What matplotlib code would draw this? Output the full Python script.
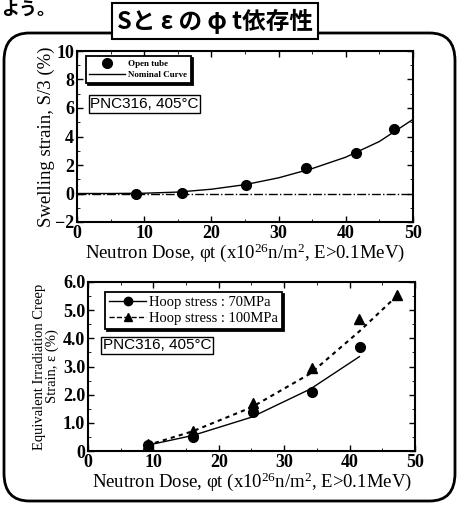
import numpy as np
import matplotlib.pyplot as plt
from matplotlib.patches import FancyBboxPatch
from matplotlib.ticker import MultipleLocator

plt.rcParams['font.family'] = ['Liberation Serif', 'DejaVu Serif']
plt.rcParams['mathtext.fontset'] = 'custom'
plt.rcParams['mathtext.rm'] = 'Liberation Serif'
plt.rcParams['mathtext.it'] = 'Liberation Serif:italic'

# --- 上: スエリング歪み ---
dose_s = [8.8, 15.6, 25.1, 34.1, 41.5, 47.2]
swell = [-0.05, 0.05, 0.62, 1.8, 2.85, 4.5]
curve_x = [0, 5, 10, 15, 20, 25, 30, 35, 40, 45, 50]
curve_y = [0, 0, 0.02, 0.1, 0.3, 0.62, 1.1, 1.75, 2.55, 3.65, 5.2]

# --- 下: 照射クリープ歪み ---
dose_c70 = [9.1, 16.0, 25.3, 34.3, 41.6]
creep70 = [0.2, 0.5, 1.4, 2.1, 3.68]
dose_c100 = [9.1, 16.0, 25.3, 34.3, 41.5, 47.2]
creep100 = [0.25, 0.7, 1.7, 2.96, 4.7, 5.55]
fit70_x = [9, 16, 25, 34, 41.5]
fit70_y = [0.2, 0.55, 1.2, 2.2, 3.35]
fit100_x = [9, 16, 25, 34, 41.5, 47.2]
fit100_y = [0.2, 0.7, 1.55, 2.75, 4.25, 5.5]

W, H = 460, 505
fig = plt.figure(figsize=(W / 100, H / 100), dpi=100)

def box(l, t, r, b):
    return [l / W, 1 - b / H, (r - l) / W, (b - t) / H]

# 外枠
frame = FancyBboxPatch((4 / W, 4 / H), 451 / W, 468 / H, transform=fig.transFigure,
                       boxstyle='round,pad=0,rounding_size=0.055', fc='none', ec='k', lw=2)
fig.patches.append(frame)
fig.text(1 / W, 1 - 0 / H, 'よう。', family=['Noto Sans CJK JP'], fontsize=13, weight='bold', va='top')
fig.text(215 / W, 1 - 21 / H, 'Sと ε の φ t依存性', family=['Noto Sans CJK JP', 'DejaVu Sans'],
         fontsize=17, weight='bold', ha='center', va='center',
         bbox=dict(boxstyle='square,pad=0.22', fc='white', ec='k', lw=1.5))

xlab = 'Neutron Dose, φt (x10$^{26}$n/m$^2$, E>0.1MeV)'

def style(ax):
    ax.tick_params(direction='in', which='both', top=True, right=True, labelsize=13, pad=2)
    ax.tick_params(which='major', length=4, width=1)
    ax.tick_params(which='minor', length=2)
    for lab in ax.get_xticklabels() + ax.get_yticklabels():
        lab.set_fontweight('bold')
    for s in ax.spines.values():
        s.set_linewidth(1.5)

ax1 = fig.add_axes(box(77, 51, 413, 222))
ax1.plot([0, 50], [0, 0], 'k-.', lw=1)
nom, = ax1.plot(curve_x, curve_y, 'k-', lw=1)
opn, = ax1.plot(dose_s, swell, 'ko', ms=7)
ax1.set_xlim(0, 50)
ax1.set_ylim(-2, 10)
ax1.xaxis.set_major_locator(MultipleLocator(10))
ax1.xaxis.set_minor_locator(MultipleLocator(5))
ax1.yaxis.set_major_locator(MultipleLocator(2))
ax1.yaxis.set_minor_locator(MultipleLocator(1))
ax1.set_xlabel(xlab, fontsize=13.5, labelpad=0)
ax1.set_ylabel('Swelling strain, S/3 (%)', fontsize=13.5, labelpad=0)
leg = ax1.legend([opn, nom], ['Open tube', 'Nominal Curve'], loc='upper left', bbox_to_anchor=(0.012, 0.995),
                 prop={'size': 6.5, 'weight': 'bold'}, frameon=True, fancybox=False, edgecolor='k',
                 handlelength=4, borderpad=0.4, labelspacing=0.3, handletextpad=0.3,
                 shadow={'color': 'k', 'alpha': 1, 'ox': 1.5, 'oy': -1.5})
leg.get_frame().set_linewidth(1.3)
ax1.text(0.04, 0.69, 'PNC316, 405°C', transform=ax1.transAxes, family='Liberation Sans',
         fontsize=11, va='center', bbox=dict(boxstyle='square,pad=0.1', fc='white', ec='k', lw=1))
style(ax1)

ax2 = fig.add_axes(box(88, 282, 415, 451))
ax2.plot(fit70_x, fit70_y, 'k-', lw=1)
ax2.plot(fit100_x, fit100_y, 'k--', lw=1.5, dashes=(2, 2))
ax2.plot(dose_c70, creep70, 'ko', ms=7)
ax2.plot(dose_c100, creep100, 'k^', ms=7)
l70, = ax2.plot([], [], 'k-', marker='o', ms=6, lw=1)
l100, = ax2.plot([], [], 'k--', marker='^', ms=6, lw=1)
ax2.set_xlim(0, 50)
ax2.set_ylim(0, 6)
ax2.xaxis.set_major_locator(MultipleLocator(10))
ax2.xaxis.set_minor_locator(MultipleLocator(5))
ax2.yaxis.set_major_locator(MultipleLocator(1))
ax2.yaxis.set_minor_locator(MultipleLocator(0.5))
ax2.set_yticks([0, 1, 2, 3, 4, 5, 6], ['0', '1.0', '2.0', '3.0', '4.0', '5.0', '6.0'])
ax2.set_xlabel(xlab, fontsize=13.5, labelpad=0)
ax2.set_ylabel('Equivalent Irradiation Creep\nStrain, ε (%)', fontsize=10.5, labelpad=3, linespacing=0.9)
leg2 = ax2.legend([l70, l100], ['Hoop stress : 70MPa', 'Hoop stress : 100MPa'],
                  loc='upper left', bbox_to_anchor=(0.03, 0.985), fontsize=10.5,
                  frameon=True, fancybox=False, edgecolor='k', handlelength=2.5,
                  borderpad=0.3, labelspacing=0.15, handletextpad=0.2,
                  shadow={'color': 'k', 'alpha': 1, 'ox': 1.5, 'oy': -1.5})
leg2.get_frame().set_linewidth(1.3)
ax2.text(0.045, 0.625, 'PNC316, 405°C', transform=ax2.transAxes, family='Liberation Sans',
         fontsize=11, va='center', bbox=dict(boxstyle='square,pad=0.1', fc='white', ec='k', lw=1))
style(ax2)

fig.savefig('out.png', dpi=100)
